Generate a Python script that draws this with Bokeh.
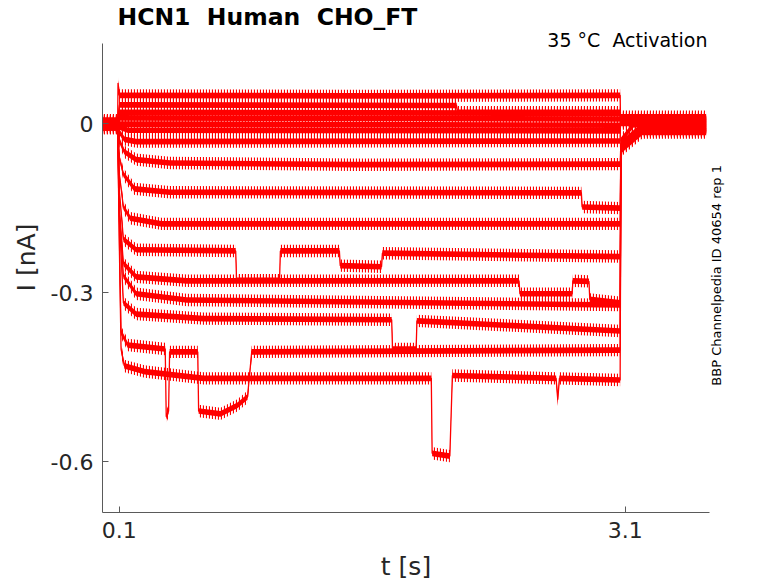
import numpy as np
from math import pi
from bokeh.plotting import figure
from bokeh.models import Range1d, FixedTicker, Label, LinearAxis
from bokeh.embed import file_html
from bokeh.resources import INLINE

# ---- data (t in s, I in nA) ----
x_ticks = [0.1, 3.1]
x_tick_labels = ["0.1", "3.1"]
y_ticks = [-0.6, -0.3, 0.0]
y_tick_labels = ["-0.6", "-0.3", "0"]

t01 = [0.0, 0.09, 0.092, 0.10, 1.5, 3.07, 3.072, 3.58]
i01 = [0.006, 0.006, 0.072, 0.050, 0.049, 0.050, 0.012, 0.012]
t02 = [0.0, 0.09, 0.10, 2.10, 2.105, 3.07, 3.072, 3.58]
i02 = [0.005, 0.005, 0.033, 0.032, 0.020, 0.020, 0.010, 0.010]
t03 = [0.0, 0.09, 0.10, 3.07, 3.072, 3.58]
i03 = [0.004, 0.004, 0.020, 0.018, 0.008, 0.008]
t04 = [0.0, 0.09, 0.10, 3.07, 3.072, 3.58]
i04 = [0.003, 0.003, 0.010, 0.008, 0.006, 0.006]
t05 = [0.0, 0.09, 0.10, 3.07, 3.072, 3.58]
i05 = [0.002, 0.002, -0.001, -0.003, 0.004, 0.004]
t06 = [0.0, 0.09, 0.10, 0.15, 3.07, 3.072, 3.58]
i06 = [0.001, 0.001, -0.006, -0.012, -0.013, 0.002, 0.002]
t07 = [0.0, 0.09, 0.10, 0.13, 0.2, 3.07, 3.072, 3.58]
i07 = [0.0, 0.0, -0.015, -0.028, -0.032, -0.031, 0.0, 0.0]
t08 = [0.0, 0.09, 0.10, 0.13, 0.2, 0.4, 1.5, 3.07, 3.075, 3.15, 3.58]
i08 = [-0.001, -0.001, -0.03, -0.05, -0.064, -0.070, -0.073, -0.072, -0.03, -0.002, -0.002]
t09 = [0.0, 0.09, 0.10, 0.124, 0.19, 0.4, 2.84, 2.845, 3.07, 3.075, 3.2, 3.58]
i09 = [-0.002, -0.002, -0.06, -0.09, -0.116, -0.122, -0.123, -0.148, -0.150, -0.035, -0.004, -0.004]
t10 = [0.0, 0.09, 0.10, 0.124, 0.165, 0.35, 3.07, 3.075, 3.2, 3.58]
i10 = [-0.003, -0.003, -0.09, -0.148, -0.168, -0.178, -0.178, -0.038, -0.006, -0.006]
t11 = [0.0, 0.09, 0.10, 0.124, 0.2, 0.79, 0.795, 1.05, 1.055, 1.405, 1.41, 1.655, 1.66, 3.07, 3.075, 3.2, 3.58]
i11 = [-0.004, -0.004, -0.12, -0.205, -0.224, -0.226, -0.278, -0.278, -0.226, -0.226, -0.252, -0.254, -0.230, -0.236, -0.040, -0.008, -0.008]
t12 = [0.0, 0.09, 0.10, 0.124, 0.2, 0.5, 2.47, 2.476, 2.785, 2.79, 2.885, 2.89, 3.07, 3.075, 3.2, 3.58]
i12 = [-0.005, -0.005, -0.15, -0.248, -0.272, -0.279, -0.279, -0.302, -0.302, -0.279, -0.280, -0.312, -0.318, -0.042, -0.010, -0.010]
t13 = [0.0, 0.09, 0.10, 0.124, 0.2, 0.5, 3.07, 3.075, 3.2, 3.58]
i13 = [-0.006, -0.006, -0.16, -0.27, -0.302, -0.313, -0.322, -0.044, -0.012, -0.012]
t14 = [0.0, 0.09, 0.10, 0.124, 0.2, 0.6, 1.715, 1.72, 1.86, 1.865, 3.07, 3.075, 3.2, 3.58]
i14 = [-0.007, -0.007, -0.17, -0.318, -0.338, -0.346, -0.348, -0.400, -0.400, -0.350, -0.368, -0.045, -0.013, -0.013]
t15 = [0.0, 0.09, 0.10, 0.11, 0.15, 0.372, 0.378, 0.392, 0.398, 0.565, 0.57, 0.70, 0.80, 0.86, 0.885, 3.07, 3.075, 3.2, 3.58]
i15 = [-0.008, -0.008, -0.2, -0.37, -0.393, -0.400, -0.520, -0.510, -0.405, -0.405, -0.510, -0.515, -0.500, -0.485, -0.405, -0.402, -0.046, -0.014, -0.014]
t16 = [0.0, 0.09, 0.10, 0.11, 0.13, 0.25, 0.6, 1.95, 1.955, 2.06, 2.075, 2.69, 2.70, 2.71, 3.07, 3.075, 3.2, 3.58]
i16 = [-0.008, -0.008, -0.22, -0.40, -0.43, -0.44, -0.452, -0.452, -0.585, -0.590, -0.447, -0.452, -0.49, -0.452, -0.455, -0.048, -0.016, -0.016]

traces = [(t01, i01), (t02, i02), (t03, i03), (t04, i04), (t05, i05), (t06, i06),
          (t07, i07), (t08, i08), (t09, i09), (t10, i10), (t11, i11), (t12, i12),
          (t13, i13), (t14, i14), (t15, i15), (t16, i16)]

title_text = "HCN1 \u00a0Human \u00a0CHO_FT"
condition_text = "35 °C \u00a0Activation"
source_text = "BBP Channelpedia ID 40654 rep 1"

# ---- style ----
RED = "#ff0000"
CORE_HALF = 0.005      # solid core of the noisy band (nA)
FRINGE_HALF = 0.011    # hatched fringe of the noisy band (nA)
AX = "#5a5a5a"
TXT = "#262626"
FONT = "DejaVu Sans"
SOURCE_ANCHOR = -0.465  # lower end of the vertical source note (layout position)

YMIN, YMAX = -0.69, 0.142      # axis extent
YTOP_FRAME = 0.2147            # frame runs up to the top of the canvas; axis line stops at YMAX
XMIN, XMAX = 0.0, 3.6

p = figure(width=778, height=583, output_backend="svg", toolbar_location=None,
           x_range=Range1d(XMIN, XMAX), y_range=Range1d(YMIN, YTOP_FRAME),
           min_border_left=102, min_border_right=69, min_border_top=2,
           min_border_bottom=71)
p.title = None
p.outline_line_color = None
p.grid.visible = False
p.background_fill_color = "white"
p.border_fill_color = "white"

arrs = [(np.asarray(t, float), np.asarray(i, float)) for t, i in traces]
for t, i in arrs:
    p.varea(x=t, y1=i - FRINGE_HALF, y2=i + FRINGE_HALF, fill_alpha=0,
            hatch_pattern="vertical_line", hatch_color=RED, hatch_scale=3,
            hatch_weight=1.2)
for t, i in arrs:
    p.varea(x=t, y1=i - CORE_HALF, y2=i + CORE_HALF, fill_color=RED, fill_alpha=1.0)
    p.line(t, i, line_color=RED, line_width=1.3)

for ax in (p.xaxis[0], p.yaxis[0]):
    ax.axis_line_color = AX
    ax.axis_line_width = 1
    ax.major_tick_line_color = AX
    ax.major_tick_in = 6
    ax.major_tick_out = 0
    ax.minor_tick_line_color = None
    ax.major_label_text_font = FONT
    ax.major_label_text_font_size = "22px"
    ax.major_label_text_color = TXT
    ax.axis_label_text_font = FONT
    ax.axis_label_text_font_size = "25px"
    ax.axis_label_text_font_style = "normal"
    ax.axis_label_text_color = TXT

xa, ya = p.xaxis[0], p.yaxis[0]
xa.ticker = FixedTicker(ticks=x_ticks)
xa.major_label_overrides = {k: v for k, v in zip(x_ticks, x_tick_labels)}
xa.major_label_standoff = 9
xa.axis_label = "t [s]"
xa.axis_label_standoff = 11
ya.ticker = FixedTicker(ticks=y_ticks)
ya.major_label_overrides = {k: v for k, v in zip(y_ticks, y_tick_labels)}
ya.major_label_standoff = 9
ya.axis_label = "I [nA]"
ya.axis_label_standoff = 7
ya.bounds = (YMIN, YMAX)

# right-hand vertical source note, drawn as the single label of a right axis
ra = LinearAxis(ticker=FixedTicker(ticks=[SOURCE_ANCHOR]),
                major_label_overrides={SOURCE_ANCHOR: source_text},
                major_label_orientation=pi / 2,
                axis_line_color=None, major_tick_line_color=None,
                minor_tick_line_color=None, major_label_standoff=1,
                major_label_text_font=FONT, major_label_text_font_size="13px",
                major_label_text_color="black")
p.add_layout(ra, "right")

p.add_layout(Label(x=XMIN, y=YMAX, x_offset=15, y_offset=26, text=title_text,
                   text_align="left", text_baseline="alphabetic",
                   text_font=FONT, text_font_size="23.5px",
                   text_font_style="bold", text_color="black"))
p.add_layout(Label(x=XMAX, y=YMAX, x_offset=-2, y_offset=3, text=condition_text,
                   text_align="right", text_baseline="alphabetic",
                   text_font=FONT, text_font_size="19px", text_color="black"))

open("out.html", "w").write(file_html(p, INLINE))
